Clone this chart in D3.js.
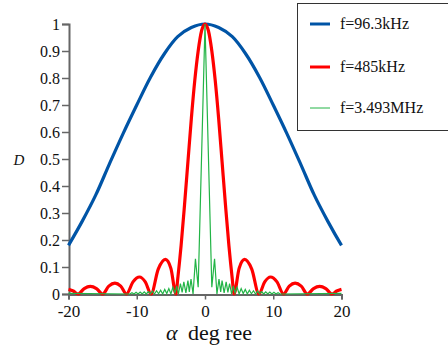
<!DOCTYPE html>
<html>
<head>
<meta charset="utf-8">
<script src="https://cdn.jsdelivr.net/npm/d3@7"></script>
<style>
  body { margin: 0; background: #fff; }
  svg { display: block; }
</style>
</head>
<body>
<svg width="448" height="348"></svg>
<script>
// directivity D vs angle alpha (deg)
var f96 = [
  [-20, 0.18], [-18, 0.269], [-16, 0.367], [-14, 0.482], [-12, 0.594], [-10, 0.70],
  [-8, 0.802], [-6, 0.888], [-4, 0.953], [-2, 0.987], [0, 1],
  [2, 0.987], [4, 0.953], [6, 0.888], [8, 0.802], [10, 0.70], [12, 0.594],
  [14, 0.482], [16, 0.367], [18, 0.269], [20, 0.18]
];

var f485 = [
  [-20, 0.017], [-19.3, 0.011], [-18.6, 0],
  [-17.7, 0.02], [-16.8, 0.028], [-15.9, 0.02], [-15.0, 0],
  [-14.1, 0.029], [-13.2, 0.04], [-12.35, 0.029], [-11.5, 0],
  [-10.55, 0.045], [-9.6, 0.063], [-8.75, 0.045], [-7.9, 0],
  [-6.85, 0.092], [-5.8, 0.128], [-5.0, 0.095], [-4.25, 0],
  [-4, 0.055], [-3.5, 0.18], [-3, 0.33], [-2.5, 0.49], [-2, 0.65], [-1.5, 0.79],
  [-1, 0.90], [-0.5, 0.975], [0, 1],
  [0.5, 0.975], [1, 0.90], [1.5, 0.79], [2, 0.65], [2.5, 0.49], [3, 0.33], [3.5, 0.18],
  [4, 0.055], [4.25, 0],
  [5.0, 0.095], [5.8, 0.128], [6.85, 0.092], [7.9, 0],
  [8.75, 0.045], [9.6, 0.063], [10.55, 0.045], [11.5, 0],
  [12.35, 0.029], [13.2, 0.04], [14.1, 0.029], [15.0, 0],
  [15.9, 0.02], [16.8, 0.028], [17.7, 0.02], [18.6, 0],
  [19.3, 0.011], [20, 0.017]
];

var f3493 = [
  [-20, 0.002], [-11.0, 0.0], [-10.7, 0.005], [-10.4, 0.0], [-10.1, 0.006], [-9.8, 0.0],
  [-9.5, 0.007], [-9.2, 0.0], [-8.9, 0.008], [-8.6, 0.0], [-8.3, 0.009], [-8.0, 0.001],
  [-7.7, 0.011], [-7.4, 0.0], [-7.1, 0.012], [-6.8, 0.001], [-6.5, 0.014], [-6.2, 0.0],
  [-5.9, 0.017], [-5.6, 0.002], [-5.3, 0.02], [-5.0, 0.0], [-4.7, 0.025], [-4.4, 0.004],
  [-4.15, 0.03], [-3.9, 0.0], [-3.6, 0.038], [-3.35, 0.006], [-3.1, 0.045], [-2.8, 0.004],
  [-2.5, 0.05], [-2.3, 0.008], [-2.05, 0.055], [-1.75, 0.0], [-1.4, 0.13], [-1.0, 0.025],
  [0, 1],
  [1.0, 0.025], [1.4, 0.13], [1.75, 0.0], [2.05, 0.055], [2.3, 0.008], [2.5, 0.05],
  [2.8, 0.004], [3.1, 0.045], [3.35, 0.006], [3.6, 0.038], [3.9, 0.0], [4.15, 0.03],
  [4.4, 0.004], [4.7, 0.025], [5.0, 0.0], [5.3, 0.02], [5.6, 0.002], [5.9, 0.017],
  [6.2, 0.0], [6.5, 0.014], [6.8, 0.001], [7.1, 0.012], [7.4, 0.0], [7.7, 0.011],
  [8.0, 0.001], [8.3, 0.009], [8.6, 0.0], [8.9, 0.008], [9.2, 0.0], [9.5, 0.007],
  [9.8, 0.0], [10.1, 0.006], [10.4, 0.0], [10.7, 0.005], [11.0, 0.0], [20, 0.002]
];

var xTicks = [-20, -10, 0, 10, 20];
var yTicks = [0, 0.1, 0.2, 0.3, 0.4, 0.5, 0.6, 0.7, 0.8, 0.9, 1];
var legendLabels = ["f=96.3kHz", "f=485kHz", "f=3.493MHz"];

var serif = "Liberation Serif";

var svg = d3.select("svg");

var x = d3.scaleLinear().domain([-20, 20]).range([68.5, 341.5]);
var y = d3.scaleLinear().domain([0, 1]).range([294, 24]);

// axes
var yAxis = svg.append("g")
    .attr("transform", "translate(69,0)")
    .call(d3.axisLeft(y).tickValues(yTicks).tickSize(7).tickPadding(2)
        .tickFormat(function(d) { return String(+d.toFixed(1)); }));
yAxis.attr("font-family", serif).attr("font-size", 16);
yAxis.select(".domain").attr("stroke", "#666").attr("stroke-width", 2);
yAxis.selectAll(".tick line").attr("stroke", "#666").attr("stroke-width", 1.5);
yAxis.selectAll(".tick text").attr("fill", "#111");

var xAxis = svg.append("g")
    .attr("transform", "translate(0,294.5)")
    .call(d3.axisBottom(x).tickValues(xTicks).tickSize(5).tickPadding(5)
        .tickFormat(function(d) { return d; }));
xAxis.attr("font-family", serif).attr("font-size", 17);
xAxis.select(".domain").attr("stroke", "#666").attr("stroke-width", 2);
xAxis.selectAll(".tick line").attr("stroke", "#666").attr("stroke-width", 1.5);
xAxis.selectAll(".tick text").attr("fill", "#111");

// curves
var rounded = d3.line()
    .x(function(d) { return x(d[0]); })
    .y(function(d) { return y(d[1]); })
    .curve(d3.curveCatmullRom);

var smooth = d3.line()
    .x(function(d) { return x(d[0]); })
    .y(function(d) { return y(d[1]); })
    .curve(d3.curveMonotoneX);

var straight = d3.line()
    .x(function(d) { return x(d[0]); })
    .y(function(d) { return y(d[1]); });

svg.append("path").datum(f96)
    .attr("d", rounded)
    .attr("fill", "none").attr("stroke", "#0054a6").attr("stroke-width", 3.2);

svg.append("path").datum(f485)
    .attr("d", smooth)
    .attr("fill", "none").attr("stroke", "#ff0000").attr("stroke-width", 3.2)
    .attr("stroke-linejoin", "round");

svg.append("path").datum(f3493)
    .attr("d", straight)
    .attr("fill", "none").attr("stroke", "#22b446").attr("stroke-width", 1.2);

// axis titles
var xt = svg.append("text")
    .attr("x", 166).attr("y", 340)
    .attr("font-family", serif)
    .attr("font-size", 22)
    .attr("fill", "#111");
xt.append("tspan").attr("font-style", "italic").text("α");
xt.append("tspan").attr("x", 188).text("deg ree");

svg.append("text")
    .attr("x", 19).attr("y", 165)
    .attr("text-anchor", "middle")
    .attr("font-family", serif)
    .attr("font-size", 15)
    .attr("font-style", "italic")
    .attr("fill", "#111")
    .text("D");

// legend
svg.append("rect")
    .attr("x", 297.5).attr("y", 3.5)
    .attr("width", 160).attr("height", 127)
    .attr("fill", "#fff").attr("stroke", "#333").attr("stroke-width", 1);

var legendColors = ["#0054a6", "#ff0000", "#22b446"];
var legendWidths = [3, 3, 1];
var legendY = [24, 67, 108];

var lg = svg.selectAll(".lg").data(legendLabels).enter().append("g").attr("class", "lg");
lg.append("line")
    .attr("x1", 310).attr("x2", 330)
    .attr("y1", function(d, i) { return legendY[i]; })
    .attr("y2", function(d, i) { return legendY[i]; })
    .attr("stroke", function(d, i) { return legendColors[i]; })
    .attr("stroke-width", function(d, i) { return legendWidths[i]; });
lg.append("text")
    .attr("x", 340)
    .attr("y", function(d, i) { return legendY[i] + 5; })
    .attr("font-family", serif)
    .attr("font-size", 16)
    .attr("fill", "#111")
    .text(function(d) { return d; });
</script>
</body>
</html>
